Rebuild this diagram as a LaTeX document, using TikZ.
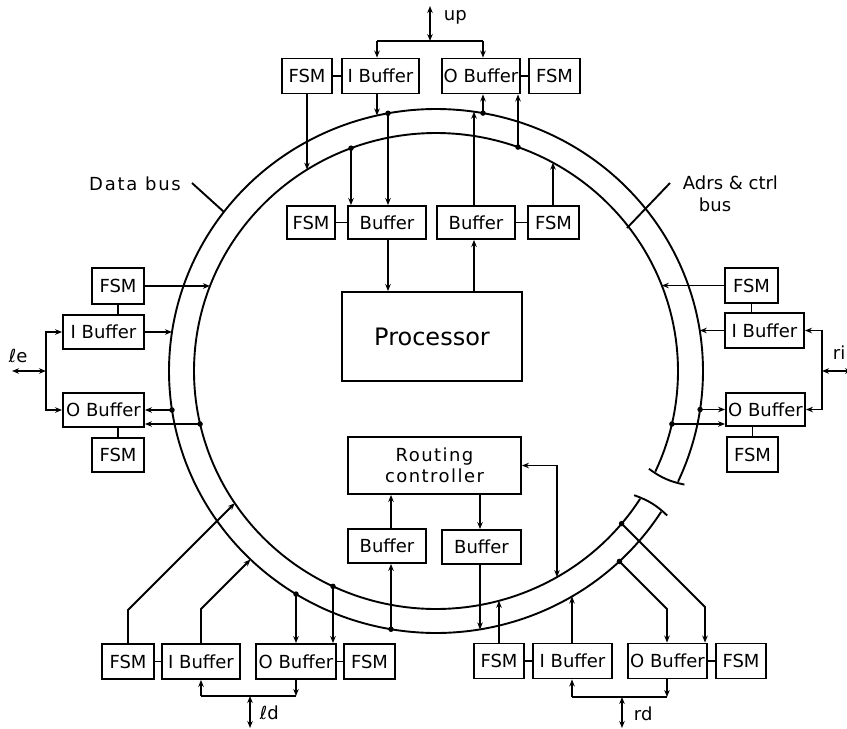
\documentclass[tikz,border=0pt]{standalone}
\usepackage{fontspec}
\setmainfont{DejaVu Sans}
\usetikzlibrary{arrows.meta}
\begin{document}
\begin{tikzpicture}[x=1pt,y=-1pt,
  declare function={
    otop(\x)=371-262*sqrt(1-((\x-436)/267)*((\x-436)/267));
    obot(\x)=371+262*sqrt(1-((\x-436)/267)*((\x-436)/267));
    itop(\x)=371-238*sqrt(1-((\x-436)/242)*((\x-436)/242));
    ibot(\x)=371+238*sqrt(1-((\x-436)/242)*((\x-436)/242));
    olft(\y)=436-267*sqrt(1-((\y-371)/262)*((\y-371)/262));
    orgt(\y)=436+267*sqrt(1-((\y-371)/262)*((\y-371)/262));
    ilft(\y)=436-242*sqrt(1-((\y-371)/238)*((\y-371)/238));
    irgt(\y)=436+242*sqrt(1-((\y-371)/238)*((\y-371)/238));
  },
  line width=1.9pt,
  box/.style={draw, line width=1.9pt, inner sep=0pt, minimum height=35pt,
    font=\fontsize{18}{21}\selectfont},
  lbl/.style={font=\fontsize{18}{21}\selectfont, inner sep=0pt},
  arr/.style={-{Stealth[length=7pt,width=5.5pt]}},
  darr/.style={{Stealth[length=7pt,width=5.5pt]}-{Stealth[length=7pt,width=5.5pt]}},
  dot/.style={circle, fill, inner sep=0pt, minimum size=5.5pt},
]
\fill[white] (0,0) rectangle (847,729);
\useasboundingbox (0,0) rectangle (847,729);

% ---------- ring ----------
\draw plot[domain=32.5:385, samples=260, smooth] ({436+267*cos(\x)},{371+262*sin(\x)});
\draw plot[domain=32.5:385, samples=260, smooth] ({436+242*cos(\x)},{371+238*sin(\x)});
\draw (648.9,468.8) to[bend right=12] (684.4,484.6);
\draw (634.1,495.2) to[bend left=12] (667.2,515.5);

% bus labels
\node[lbl, font=\fontsize{18}{21}\selectfont\addfontfeature{LetterSpace=10}] (db) at (135,184) {Data bus};
\coordinate (dbA) at (192,183);
\coordinate (dbB) at (224,212);
\draw (dbA) -- (dbB);
\node[lbl, anchor=west] (ac1) at (682,183) {Adrs \& ctrl};
\node[lbl, anchor=west] (ac2) at (698,205) {bus};
\coordinate (acA) at (670,183);
\coordinate (acB) at (627,228);
\draw (acA) -- (acB);

% ---------- top group ----------
\node[box, minimum width=50pt] (tF1) at (307,76) {FSM};
\node[box, minimum width=77pt] (tIB) at (380.5,76) {I Buffer};
\node[box, minimum width=78pt] (tOB) at (481,76) {O Buffer};
\node[box, minimum width=51pt] (tF2) at (554.5,76) {FSM};
\draw (tF1) -- (tIB);
\draw (tOB) -- (tF2);
\coordinate (upJ) at (430,41);
\coordinate (upE) at (430,6);
\coordinate (jL) at (377,41);
\coordinate (jR) at (483,41);
\draw[darr] (upJ) -- (upE);
\node[lbl, anchor=west] (upL) at (443,17) {up};
\draw (jL) -- (jR);
\draw[arr] (jL) -- (jL |- tIB.north);
\draw[arr] (jR) -- (jR |- tOB.north);

\coordinate (a1) at (307,{itop(307)});
\coordinate (a2) at (377,{otop(377)});
\coordinate (a3) at (483,{otop(483)});
\coordinate (a4) at (518,{itop(518)});
\draw[arr] (tF1.south) -- (a1);
\draw[arr] (a2 |- tIB.south) -- (a2);
\node[dot] at (a3) {};
\draw[arr] (a3) -- (a3 |- tOB.south);
\node[dot] at (a4) {};
\draw[arr] (a4) -- (a4 |- tOB.south);

% ---------- second row ----------
\node[box, minimum width=48pt, minimum height=33pt] (mF1) at (311,222.5) {FSM};
\node[box, minimum width=78pt, minimum height=33pt] (mB1) at (387,222.5) {Buffer};
\node[box, minimum width=78pt, minimum height=33pt] (mB2) at (476,222.5) {Buffer};
\node[box, minimum width=51pt, minimum height=33pt] (mF2) at (553.5,222.5) {FSM};
\draw (mF1) -- (mB1);
\draw (mB2) -- (mF2);
\coordinate (b1) at (351,{itop(351)});
\coordinate (b2) at (388,{otop(388)});
\coordinate (b3) at (474,{otop(474)});
\coordinate (b4) at (553,{itop(553)});
\node[dot] at (b1) {};
\draw[arr] (b1) -- (b1 |- mB1.north);
\node[dot] at (b2) {};
\draw[arr] (b2) -- (b2 |- mB1.north);
\draw[arr] (b3 |- mB2.north) -- (b3);
\draw[arr] (b4 |- mF2.north) -- (b4);

% ---------- processor ----------
\node[box, minimum width=180pt, minimum height=89pt, font=\fontsize{24}{26}\selectfont] (proc) at (432,336.5) {Processor};
\draw[arr] (b2 |- mB1.south) -- (b2 |- proc.north);
\draw[arr] (b3 |- proc.north) -- (b3 |- mB2.south);

% ---------- routing controller ----------
\node[box, minimum width=173pt, minimum height=57pt, align=center,
  font=\fontsize{18}{21}\selectfont\addfontfeature{LetterSpace=8}] (rc) at (434.5,465.5) {Routing\\controller};
\node[box, minimum width=78pt, minimum height=34pt] (lB) at (387,546) {Buffer};
\node[box, minimum width=79pt, minimum height=34pt] (rB) at (481.5,547) {Buffer};
\coordinate (c1) at (391,{obot(391)});
\coordinate (c2) at (480,{obot(480)});
\coordinate (c3) at (557,{ibot(557)});
\draw[arr] (c1 |- lB.north) -- (c1 |- rc.south);
\node[dot] at (c1) {};
\draw[arr] (c1) -- (c1 |- lB.south);
\draw[arr] (c2 |- rc.south) -- (c2 |- rB.north);
\draw[arr] (c2 |- rB.south) -- (c2);
\draw[darr] (c3) -- (c3 |- rc.east) -- (rc.east);

% ---------- left group ----------
\node[box, minimum width=52pt, minimum height=36pt] (lF1) at (118,286) {FSM};
\node[box, minimum width=81pt, minimum height=34pt] (lIB) at (103.5,332) {I Buffer};
\node[box, minimum width=81pt, minimum height=34pt] (lOB) at (103.5,410) {O Buffer};
\node[box, minimum width=52pt, minimum height=34pt] (lF2) at (118,455) {FSM};
\draw (lF1.south) -- (lF1.south |- lIB.north);
\draw (lOB.south -| lF2.north) -- (lF2.north);
\coordinate (d1) at ({ilft(286)},286);
\coordinate (d2) at ({olft(332)},332);
\coordinate (d3) at ({olft(410)},410);
\coordinate (d4) at ({ilft(424)},424);
\draw[arr] (lF1.east) -- (d1);
\draw[arr] (lIB.east) -- (d2);
\node[dot] at (d3) {};
\draw[arr] (d3) -- (lOB.east);
\node[dot] at (d4) {};
\draw[arr] (d4) -- (d4 -| lOB.east);
\coordinate (le) at (46,371);
\coordinate (leE) at (12,371);
\draw[darr] (le) -- (leE);
\draw[arr] (le) |- (lIB.west);
\draw[arr] (le) |- (lOB.west);
\node[lbl, anchor=west] (leL) at (8,356) {ℓe};

% ---------- right group ----------
\node[box, minimum width=53pt, minimum height=35pt] (rF1) at (751.5,285.5) {FSM};
\node[box, minimum width=79pt, minimum height=35pt] (rIB) at (764.5,330.5) {I Buffer};
\node[box, minimum width=79pt, minimum height=33pt] (rOB) at (765.5,409.5) {O Buffer};
\node[box, minimum width=51pt, minimum height=35pt] (rF2) at (752.5,454.5) {FSM};
\draw (rF1.south) -- (rF1.south |- rIB.north);
\draw (rOB.south -| rF2.north) -- (rF2.north);
\coordinate (e1) at ({irgt(285.5)},285.5);
\coordinate (e2) at ({orgt(330.5)},330.5);
\coordinate (e3) at ({orgt(409.5)},409.5);
\coordinate (e4) at ({irgt(424)},424);
\draw[arr] (rF1.west) -- (e1);
\draw[arr] (rIB.west) -- (e2);
\node[dot] at (e3) {};
\draw[arr] (e3) -- (rOB.west);
\node[dot] at (e4) {};
\draw[arr] (e4) -- (e4 -| rOB.west);
\coordinate (ri) at (822,371);
\coordinate (riE) at (852,371);
\draw[darr] (ri) -- (riE);
\draw[arr] (ri) |- (rIB.east);
\draw[arr] (ri) |- (rOB.east);
\node[lbl, anchor=west] (riL) at (832,353) {ri};

% ---------- bottom-left group ----------
\node[box, minimum width=52pt] (bF1) at (128,661.5) {FSM};
\node[box, minimum width=78pt] (bIB) at (201,661.5) {I Buffer};
\node[box, minimum width=80pt] (bOB) at (296,661.5) {O Buffer};
\node[box, minimum width=51pt] (bF2) at (369.5,661.5) {FSM};
\draw (bF1) -- (bIB);
\draw (bOB) -- (bF2);
\coordinate (f1k) at (128,610);
\coordinate (f1) at (234.8,503.2);
\coordinate (f2k) at (201,609);
\coordinate (f2) at (250.5,559.5);
\coordinate (f3) at (296,{obot(296)});
\coordinate (f4) at (333,{ibot(333)});
\draw[arr] (bF1.north) -- (f1k) -- (f1);
\draw[arr] (bIB.north) -- (f2k) -- (f2);
\node[dot] at (f3) {};
\draw[arr] (f3) -- (f3 |- bOB.north);
\node[dot] at (f4) {};
\draw[arr] (f4) -- (f4 |- bOB.north);
\coordinate (ldJ) at (250,696);
\coordinate (ldE) at (250,728);
\coordinate (ldL) at (201,696);
\coordinate (ldR) at (296,696);
\draw (ldL) -- (ldR);
\draw[arr] (ldL) -- (bIB.south);
\draw[arr] (bOB.south) -- (ldR);
\draw[darr] (ldJ) -- (ldE);
\node[lbl, anchor=west] (ldT) at (259,713) {ℓd};

% ---------- bottom-right group ----------
\node[box, minimum width=50pt] (cF1) at (499,661) {FSM};
\node[box, minimum width=79pt] (cIB) at (572.5,661) {I Buffer};
\node[box, minimum width=79pt] (cOB) at (667.5,661) {O Buffer};
\node[box, minimum width=50pt] (cF2) at (741,661) {FSM};
\draw (cF1) -- (cIB);
\draw (cOB) -- (cF2);
\coordinate (g1) at (499,{ibot(499)});
\coordinate (g2) at (572,{obot(572)});
\coordinate (g3) at (621.6,523.6);
\coordinate (g3k) at (705,607);
\coordinate (g4) at (619.4,561.4);
\coordinate (g4k) at (667,609);
\draw[arr] (cF1.north) -- (g1);
\draw[arr] (g2 |- cIB.north) -- (g2);
\node[dot] at (g3) {};
\draw[arr] (g3) -- (g3k) -- (g3k |- cOB.north);
\node[dot] at (g4) {};
\draw[arr] (g4) -- (g4k) -- (g4k |- cOB.north);
\coordinate (rdJ) at (622,697);
\coordinate (rdE) at (622,728);
\coordinate (rdL) at (572,697);
\coordinate (rdR) at (667,697);
\draw (rdL) -- (rdR);
\draw[arr] (rdL) -- (rdL |- cIB.south);
\draw[arr] (rdR |- cOB.south) -- (rdR);
\draw[darr] (rdJ) -- (rdE);
\node[lbl, anchor=west] (rdT) at (633,714) {rd};
\end{tikzpicture}
\end{document}
